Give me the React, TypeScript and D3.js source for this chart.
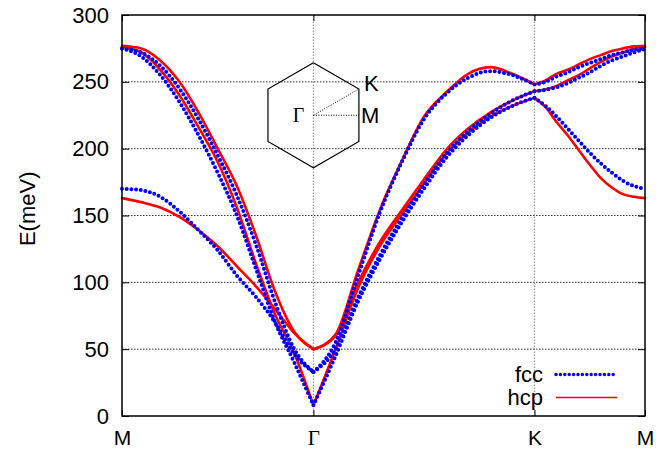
import React, { useEffect, useRef } from "react";
import * as d3 from "d3";

// energy axis ticks (meV)
const yTicks = [0, 50, 100, 150, 200, 250, 300];
// high-symmetry points along the path M-Γ-K-M (path length units)
const pathNodes = [0, 0.866, 1.866, 2.366];
const pathLabels = ["M", "Γ", "K", "M"];
// fractional position inside each segment
const sampleQ = [0, 0.1, 0.2, 0.3, 0.4, 0.5, 0.6, 0.7, 0.8, 0.9, 1];

// hcp branches, segment M-Γ
const hcpMG1 = [277, 275, 266, 250, 227, 200, 172, 135, 93, 63, 50];
const hcpMG2 = [276, 272, 259, 240, 216, 190, 156, 114, 76, 47, 8];
const hcpMG3 = [163, 160, 156, 149, 139, 127, 112, 97, 80, 62, 50];
// hcp, segment Γ-K
const hcpGK1 = [50, 61, 108, 154, 191, 224, 242, 256, 261, 256, 248];
const hcpGK2 = [8, 50, 95, 127, 151, 174, 196, 212, 224, 232, 238];
const hcpGK3 = [50, 60, 99, 130, 154, 177, 199, 215, 227, 236, 243];
// hcp, segment K-M
const hcpKM1 = [248, 251, 256, 259, 263, 267, 270, 273, 275, 276.5, 277];
const hcpKM2 = [243, 244.5, 247, 251, 255, 260, 265, 269, 272, 274.5, 276];
const hcpKM3 = [238, 231, 220, 210, 199, 188, 178, 171, 166, 164, 163];

// fcc branches
const fccMG1 = [275, 272, 262, 245, 222, 195, 165, 128, 85, 50, 33];
const fccMG2 = [275, 269, 255, 235, 210, 182, 150, 110, 70, 40, 8];
const fccMG3 = [170, 169, 164, 153, 139, 124, 105, 89, 70, 46, 33];
const fccGK1 = [33, 55, 104, 152, 190, 222, 241, 253, 258, 255, 248];
const fccGK2 = [8, 45, 85, 117, 145, 170, 193, 210, 223, 232, 238];
const fccGK3 = [33, 50, 88, 120, 148, 173, 196, 213, 226, 236, 243];
const fccKM1 = [248, 250, 254, 257, 261, 264, 267, 270, 272, 274, 275];
const fccKM2 = [243, 244, 246, 249, 253, 257, 262, 266, 269, 272, 274.5];
const fccKM3 = [238, 232, 224, 215, 206, 197, 189, 182, 176, 172, 170];

const seriesNames = ["fcc", "hcp"];

export default function App() {
  const svgRef = useRef<SVGSVGElement>(null);

  useEffect(() => {
    const svg = d3.select(svgRef.current);
    svg.selectAll("*").remove();

    const x = d3.scaleLinear().domain([0, 2.366]).range([122, 645]);
    const y = d3.scaleLinear().domain([0, 300]).range([416, 15]);
    const sans = "'Liberation Sans', Arial, Helvetica, sans-serif";
    const serif = "'Liberation Serif', 'Times New Roman', serif";

    // grid
    svg.append("g")
      .selectAll("line")
      .data(yTicks.slice(1, -1))
      .join("line")
      .attr("x1", x(0)).attr("x2", x(2.366))
      .attr("y1", (d) => y(d)).attr("y2", (d) => y(d))
      .attr("stroke", "#333").attr("stroke-width", 1)
      .attr("stroke-dasharray", "1.5,1.5");
    svg.append("g")
      .selectAll("line")
      .data(pathNodes.slice(1, -1))
      .join("line")
      .attr("x1", (d) => x(d)).attr("x2", (d) => x(d))
      .attr("y1", y(0)).attr("y2", y(300))
      .attr("stroke", "#999").attr("stroke-width", 1.2)
      .attr("stroke-dasharray", "1.5,1.5");

    // Brillouin zone inset
    const cx = x(pathNodes[1]);
    const cy = y(225);
    const R = 52.5;
    const hex = d3.range(7).map((i) => {
      const a = -Math.PI / 2 + (i * Math.PI) / 3;
      return [cx + R * Math.cos(a), cy + R * Math.sin(a)] as [number, number];
    });
    svg.append("path")
      .attr("d", d3.line()(hex))
      .attr("fill", "none").attr("stroke", "#000").attr("stroke-width", 1.2);
    const kPt: [number, number] = [cx + R * Math.cos(-Math.PI / 6), cy + R * Math.sin(-Math.PI / 6)];
    const mPt: [number, number] = [cx + R * Math.cos(-Math.PI / 6), cy];
    [kPt, mPt].forEach((p) => {
      svg.append("line")
        .attr("x1", cx).attr("y1", cy).attr("x2", p[0]).attr("y2", p[1])
        .attr("stroke", "#000").attr("stroke-width", 1)
        .attr("stroke-dasharray", "1,1.5");
    });
    svg.append("text").attr("x", kPt[0] + 5).attr("y", kPt[1] + 2)
      .attr("font-family", sans).attr("font-size", 22).text("K");
    svg.append("text").attr("x", mPt[0] + 2).attr("y", mPt[1] + 8)
      .attr("font-family", sans).attr("font-size", 22).text("M");
    svg.append("text").attr("x", cx - 9).attr("y", cy + 7)
      .attr("text-anchor", "end")
      .attr("font-family", serif).attr("font-size", 20).text("Γ");

    // bands, one path per branch and segment
    const segs = [
      { hcp: [hcpMG1, hcpMG2, hcpMG3], fcc: [fccMG1, fccMG2, fccMG3] },
      { hcp: [hcpGK1, hcpGK2, hcpGK3], fcc: [fccGK1, fccGK2, fccGK3] },
      { hcp: [hcpKM1, hcpKM2, hcpKM3], fcc: [fccKM1, fccKM2, fccKM3] },
    ];
    const bandPath = (s: number, vals: number[]) => {
      const a = pathNodes[s];
      const b = pathNodes[s + 1];
      const pts = vals.map((v, i) => [x(a + sampleQ[i] * (b - a)), y(v)] as [number, number]);
      return d3.line().curve(d3.curveMonotoneX)(pts);
    };

    const gH = svg.append("g");
    segs.forEach((seg, s) => {
      seg.hcp.forEach((vals) => {
        gH.append("path").attr("d", bandPath(s, vals))
          .attr("fill", "none").attr("stroke", "#ff0000")
          .attr("stroke-width", 2.6).attr("stroke-linecap", "round");
      });
    });
    const gF = svg.append("g");
    segs.forEach((seg, s) => {
      seg.fcc.forEach((vals) => {
        gF.append("path").attr("d", bandPath(s, vals))
          .attr("fill", "none").attr("stroke", "#0000ff")
          .attr("stroke-width", 4).attr("stroke-linecap", "round")
          .attr("stroke-dasharray", "0,4.7");
      });
    });

    // frame
    svg.append("rect")
      .attr("x", x(0)).attr("y", y(300))
      .attr("width", x(2.366) - x(0)).attr("height", y(0) - y(300))
      .attr("fill", "none").attr("stroke", "#000").attr("stroke-width", 1.5);

    // y axis (left + mirrored ticks on right)
    const yAxis = svg.append("g")
      .attr("transform", `translate(${x(0)},0)`)
      .call(d3.axisLeft(y).tickValues(yTicks).tickSizeInner(-7).tickSizeOuter(0).tickPadding(13));
    yAxis.select(".domain").remove();
    yAxis.selectAll("text").attr("font-family", sans).attr("font-size", 22).attr("fill", "#000");
    const yAxisR = svg.append("g")
      .attr("transform", `translate(${x(2.366)},0)`)
      .call(d3.axisRight(y).tickValues(yTicks).tickSizeInner(-7).tickSizeOuter(0).tickFormat(() => ""));
    yAxisR.select(".domain").remove();

    // x axis
    const xAxis = svg.append("g")
      .attr("transform", `translate(0,${y(0)})`)
      .call(d3.axisBottom(x).tickValues(pathNodes).tickSizeInner(-6).tickSizeOuter(0).tickPadding(14)
        .tickFormat((_, i) => pathLabels[i]));
    xAxis.select(".domain").remove();
    xAxis.selectAll("text")
      .attr("font-family", (_, i) => (i === 1 ? serif : sans))
      .attr("font-size", 21).attr("fill", "#000");
    const xAxisT = svg.append("g")
      .attr("transform", `translate(0,${y(300)})`)
      .call(d3.axisTop(x).tickValues(pathNodes).tickSizeInner(-6).tickSizeOuter(0).tickFormat(() => ""));
    xAxisT.select(".domain").remove();

    // y label
    svg.append("text")
      .attr("transform", `translate(35,${y(155)}) rotate(-90)`)
      .attr("text-anchor", "middle")
      .attr("font-family", sans).attr("font-size", 22).text("E(meV)");

    // legend
    const lg = svg.append("g");
    seriesNames.forEach((name, i) => {
      const ly = y(31) + i * 23;
      lg.append("text").attr("x", 543).attr("y", ly + 7)
        .attr("text-anchor", "end")
        .attr("font-family", sans).attr("font-size", 22).text(name);
      const l = lg.append("line").attr("x1", 556).attr("x2", 617)
        .attr("y1", ly).attr("y2", ly);
      if (name === "fcc") {
        l.attr("stroke", "#0000ff").attr("stroke-width", 3.5)
          .attr("stroke-linecap", "round").attr("stroke-dasharray", "0,4.4");
      } else {
        l.attr("stroke", "#ff0000").attr("stroke-width", 1.6);
      }
    });
  }, []);

  return (
    <svg
      ref={svgRef}
      width={666}
      height={451}
      style={{ position: "absolute", left: 0, top: 0, background: "#fff" }}
    />
  );
}
